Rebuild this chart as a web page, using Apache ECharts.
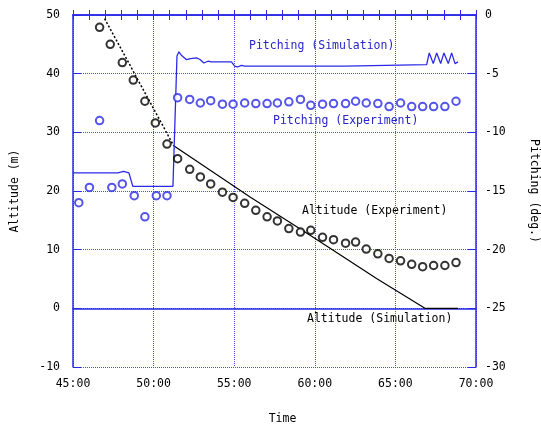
<!DOCTYPE html>
<html>
<head>
<meta charset="utf-8">
<script src="https://cdn.jsdelivr.net/npm/echarts@6/dist/echarts.min.js"></script>
<style>
  html, body { margin: 0; padding: 0; background: #fff; }
  #chart { width: 541px; height: 425px; }
</style>
</head>
<body>
<div id="chart"></div>
<script>
// time in minutes (axis shows mm:00)
const altExpTime = [46.65, 47.31, 48.06, 48.74, 49.46, 50.11, 50.83, 51.49, 52.24, 52.90, 53.54,
  54.27, 54.93, 55.65, 56.34, 57.04, 57.68, 58.39, 59.11, 59.75, 60.48, 61.16, 61.91, 62.53,
  63.19, 63.91, 64.61, 65.32, 66.01, 66.69, 67.37, 68.07, 68.76];
const altExpValue = [47.9, 45.0, 41.9, 38.9, 35.3, 31.6, 28.0, 25.5, 23.7, 22.4, 21.2,
  19.8, 18.9, 17.9, 16.7, 15.6, 14.9, 13.6, 13.0, 13.3, 12.1, 11.7, 11.1, 11.3,
  10.1, 9.3, 8.5, 8.1, 7.5, 7.1, 7.3, 7.3, 7.8];

const pitchExpTime = [45.36, 46.02, 46.65, 47.41, 48.06, 48.80, 49.46, 50.17, 50.83, 51.49, 52.24,
  52.90, 53.54, 54.27, 54.93, 55.65, 56.34, 57.04, 57.68, 58.39, 59.11, 59.75, 60.48, 61.16,
  61.91, 62.53, 63.19, 63.91, 64.61, 65.32, 66.01, 66.69, 67.37, 68.07, 68.76];
const pitchExpValue = [-16.0, -14.7, -9.0, -14.7, -14.4, -15.4, -17.2, -15.4, -15.4, -7.05, -7.2,
  -7.5, -7.3, -7.6, -7.6, -7.5, -7.55, -7.55, -7.5, -7.4, -7.2, -7.7, -7.6, -7.55,
  -7.55, -7.35, -7.5, -7.55, -7.8, -7.5, -7.8, -7.8, -7.8, -7.8, -7.35];

// altitude simulation: dotted part then solid part
const altSimDotTime = [46.96, 51.25];
const altSimDotValue = [49.4, 27.7];
const altSimTime = [51.25, 55.96, 59.90, 63.83, 66.83, 68.88];
const altSimValue = [27.7, 19.0, 12.1, 5.1, 0, 0];

const pitchSimTime = [45.0, 47.78, 47.86, 48.14, 48.22, 48.47, 48.71, 51.2, 51.45, 51.57, 51.72,
  52.03, 52.3, 52.65, 52.86, 53.12, 53.37, 53.58, 54.83, 55.03, 55.2, 55.45, 55.65, 61.86,
  61.9, 66.94, 67.1, 67.35, 67.56, 67.81, 68.01, 68.28, 68.49, 68.7, 68.88];
const pitchSimValue = [-13.46, -13.46, -13.33, -13.33, -13.46, -13.46, -14.6, -14.6, -3.5, -3.14, -3.43,
  -3.8, -3.71, -3.66, -3.77, -4.09, -3.94, -4.0, -4.0, -4.35, -4.43, -4.29, -4.35, -4.35,
  -4.23, -4.23, -3.23, -4.14, -3.23, -4.14, -3.23, -4.14, -3.23, -4.14, -4.0];

const zip = (xs, ys) => xs.map((x, i) => [x, ys[i]]);

const BLUE = '#2a2ae6';
const GRID_BLUE = '#4a4aff';
const FONT = 'DejaVu Sans Mono';

const chart = echarts.init(document.getElementById('chart'));

// minute ticks on top and bottom edges
const minuteAxis = (pos) => ({
  type: 'value', min: 45, max: 70, interval: 1, position: pos,
  axisLine: { show: true, lineStyle: { color: BLUE, width: 1.5 } },
  axisTick: { show: true, inside: true, length: 5, lineStyle: { color: BLUE, width: 1 } },
  axisLabel: { show: false },
  splitLine: { show: false }
});

chart.setOption({
  animation: false,
  backgroundColor: '#fff',
  grid: { left: 73, right: 65, top: 15, bottom: 58, outerBoundsMode: 'none', containLabel: false },
  xAxis: [
    {
      type: 'value', min: 45, max: 70, interval: 5, position: 'bottom',
      name: 'Time', nameLocation: 'middle', nameGap: 46,
      nameTextStyle: { color: '#000', fontFamily: FONT, fontSize: 11.5, padding: [0, 0, 0, 16] },
      axisLine: { show: true, lineStyle: { color: BLUE, width: 1.5 } },
      axisTick: { show: false },
      axisLabel: { color: '#000', fontFamily: FONT, fontSize: 11.5, margin: 11, formatter: v => v + ':00' },
      splitLine: { show: true, lineStyle: { color: GRID_BLUE, type: [1, 1], width: 1 } }
    },
    minuteAxis('bottom'),
    minuteAxis('top')
  ],
  yAxis: [
    {
      type: 'value', min: -10, max: 50, interval: 10, position: 'left',
      name: 'Altitude (m)', nameLocation: 'middle', nameGap: 52, nameRotate: 90,
      nameTextStyle: { color: '#000', fontFamily: FONT, fontSize: 11.5 },
      axisLine: { show: true, lineStyle: { color: BLUE, width: 1.5 } },
      axisTick: { show: true, inside: true, length: 8, lineStyle: { color: BLUE } },
      axisLabel: { color: '#000', fontFamily: FONT, fontSize: 11.5, margin: 13 },
      splitLine: { show: true, lineStyle: { color: GRID_BLUE, type: [1, 1], width: 1 } }
    },
    {
      type: 'value', min: -30, max: 0, interval: 5, position: 'right',
      name: 'Pitching (deg.)', nameLocation: 'middle', nameGap: 52, nameRotate: -90,
      nameTextStyle: { color: '#000', fontFamily: FONT, fontSize: 11.5 },
      axisLine: { show: true, lineStyle: { color: BLUE, width: 1.5 } },
      axisTick: { show: true, inside: true, length: 8, lineStyle: { color: BLUE } },
      axisLabel: { color: '#000', fontFamily: FONT, fontSize: 11.5, margin: 9 },
      splitLine: { show: false }
    }
  ],
  series: [
    {
      type: 'line', xAxisIndex: 0, yAxisIndex: 0, data: zip(altSimDotTime, altSimDotValue),
      showSymbol: false, lineStyle: { color: '#000', width: 1.5, type: [2, 2] }, z: 2
    },
    {
      type: 'line', xAxisIndex: 0, yAxisIndex: 0, data: zip(altSimTime, altSimValue),
      showSymbol: false, lineStyle: { color: '#000', width: 1.2 }, z: 2
    },
    {
      type: 'line', xAxisIndex: 0, yAxisIndex: 1, data: zip(pitchSimTime, pitchSimValue),
      showSymbol: false, lineStyle: { color: BLUE, width: 1.3 }, z: 2
    },
    {
      type: 'scatter', xAxisIndex: 0, yAxisIndex: 0, data: zip(altExpTime, altExpValue),
      symbol: 'emptyCircle', symbolSize: 7.5,
      itemStyle: { color: '#000', borderColor: '#000', borderWidth: 1.1 }, z: 3
    },
    {
      type: 'scatter', xAxisIndex: 0, yAxisIndex: 1, data: zip(pitchExpTime, pitchExpValue),
      symbol: 'emptyCircle', symbolSize: 7.5,
      itemStyle: { color: BLUE, borderColor: BLUE, borderWidth: 1.1 }, z: 3
    }
  ],
  graphic: [
    { type: 'text', x: 249, y: 46, style: { text: 'Pitching (Simulation)', fill: '#2626c8', font: '11.5px "DejaVu Sans Mono"', verticalAlign: 'middle' } },
    { type: 'text', x: 273, y: 121, style: { text: 'Pitching (Experiment)', fill: '#2626c8', font: '11.5px "DejaVu Sans Mono"', verticalAlign: 'middle' } },
    { type: 'text', x: 302, y: 211, style: { text: 'Altitude (Experiment)', fill: '#000', font: '11.5px "DejaVu Sans Mono"', verticalAlign: 'middle' } },
    { type: 'text', x: 307, y: 319, style: { text: 'Altitude (Simulation)', fill: '#000', font: '11.5px "DejaVu Sans Mono"', verticalAlign: 'middle' } }
  ]
});
</script>
</body>
</html>
